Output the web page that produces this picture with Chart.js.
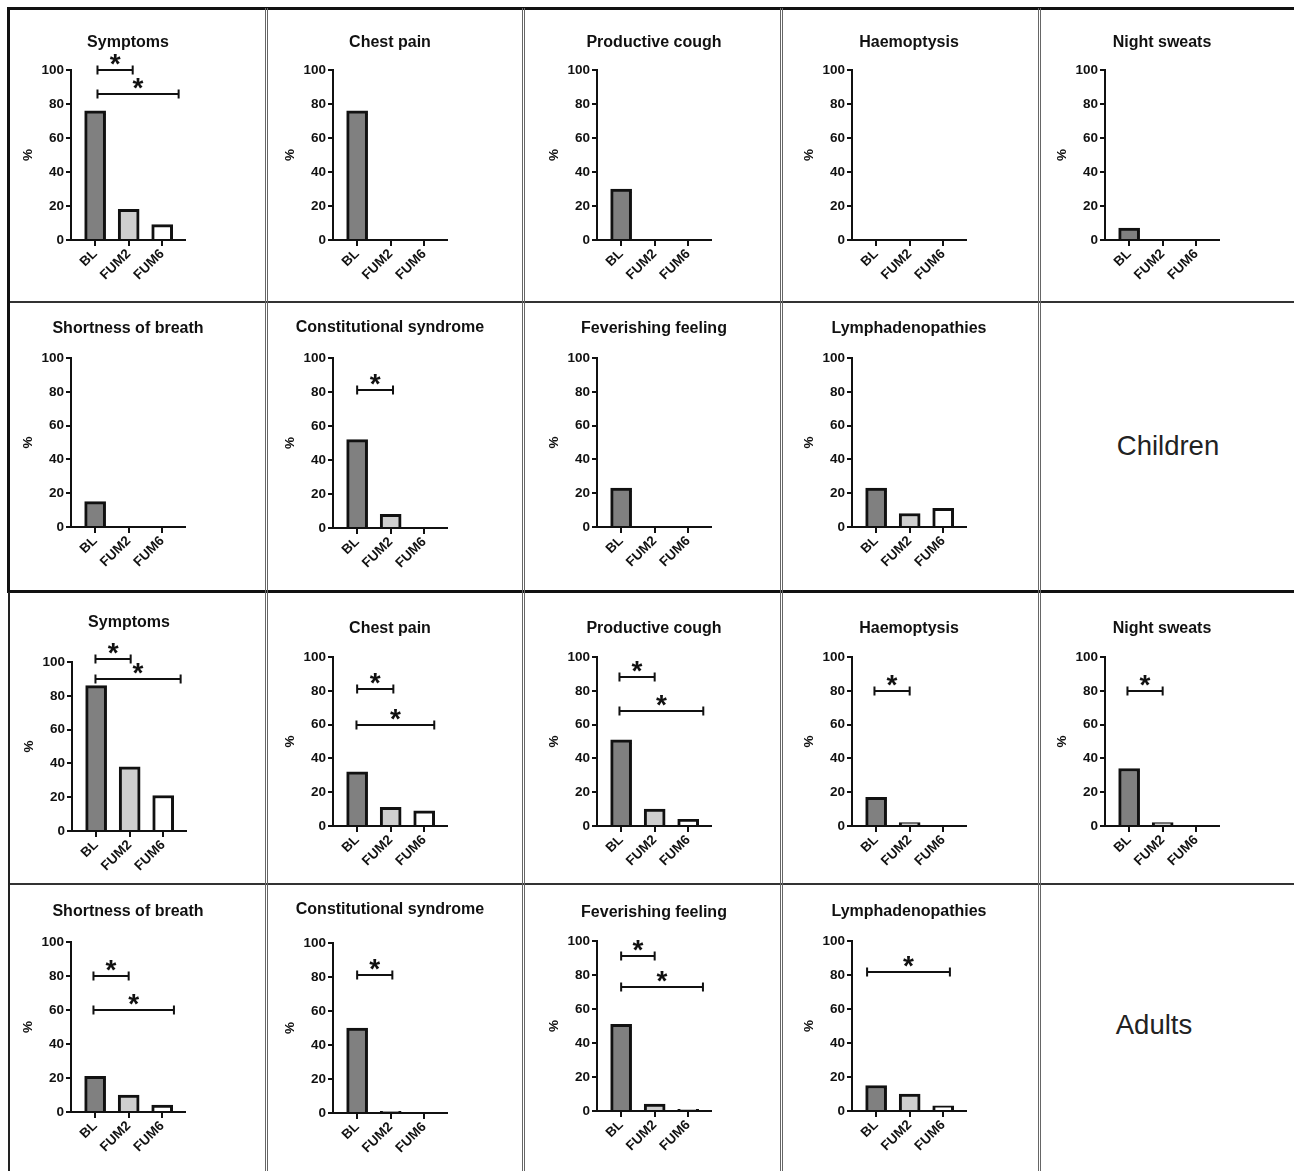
<!DOCTYPE html>
<html><head><meta charset="utf-8">
<script src="https://cdn.jsdelivr.net/npm/chart.js@4"></script>
<style>
html,body{margin:0;padding:0;background:#fff;}
#fig{position:relative;width:1294px;height:1171px;overflow:hidden;font-family:"Liberation Sans",Arial,sans-serif;}
#fig canvas{position:absolute;display:block;}
.line{position:absolute;z-index:5;}
.group{position:absolute;font-size:27.5px;color:#222;transform:translate(-50%,-50%);white-space:nowrap;}
</style></head><body><div id="fig"></div>
<script>
// ---------------- DATA ----------------
const categories = ['BL', 'FUM2', 'FUM6'];
const panelTitles = ['Symptoms', 'Chest pain', 'Productive cough', 'Haemoptysis', 'Night sweats',
  'Shortness of breath', 'Constitutional syndrome', 'Feverishing feeling', 'Lymphadenopathies'];
const childrenBL   = [76, 76, 30, 0, 7, 15, 52, 23, 23];
const childrenFUM2 = [18, 0, 0, 0, 0, 0, 8, 0, 8];
const childrenFUM6 = [9, 0, 0, 0, 0, 0, 0, 0, 11];
const adultsBL     = [86, 32, 51, 17, 34, 21, 50, 51, 15];
const adultsFUM2   = [38, 11, 10, 2, 2, 10, 1, 4, 10];
const adultsFUM6   = [21, 9, 4, 0, 0, 4, 0, 1, 3];
const yTickValues  = [0, 20, 40, 60, 80, 100];
const yAxisTitle   = '%';
// significance brackets: [from category pos, to category pos, height in %]
const childrenSig = [
  [[0.07, 1.12, 100], [0.07, 2.49, 86]], [], [], [], [], [], [[0, 1.07, 81]], [], []
];
const adultsSig = [
  [[-0.02, 1.03, 101.5], [-0.02, 2.52, 90]],
  [[0, 1.08, 81], [-0.02, 2.3, 60]],
  [[-0.05, 1.0, 88], [-0.05, 2.45, 68]],
  [[-0.05, 1.0, 80]],
  [[-0.05, 1.0, 80]],
  [[-0.05, 1.0, 80], [-0.05, 2.35, 60]],
  [[0, 1.05, 81]],
  [[0, 1.0, 91], [0, 2.44, 73]],
  [[-0.27, 2.2, 82]]
];
const groupLabels = ['Children', 'Adults'];

// ---------------- LAYOUT ----------------
const rowEdges = [8, 302, 592, 884, 1171];
// [axisX, y of 100, y of 0, title centre y] per panel
const panelGeom = [
  [[71,70,240,43],[333,70,240,43],[597,70,240,43],[852,70,240,43],[1105,70,240,43],
   [71,358,527,329],[333,358,528,328],[597,358,527,329],[852,358,527,329]],
  [[72,662,831,623],[333,657,826,629],[597,657,826,629],[852,657,826,629],[1105,657,826,629],
   [71,942,1112,912],[333,943,1113,910],[597,941,1111,913],[852,941,1111,912]]
];
const groupLabelPos = [[1168, 446], [1154, 1025]];
const barColors = ['#808080', '#cfcfcf', '#ffffff'];
const INK = '#111';
const FONT = '"Liberation Sans", Arial, Helvetica, sans-serif';

Chart.defaults.font.family = FONT;
Chart.defaults.color = INK;
Chart.defaults.animation = false;

const sigPlugin = {
  id: 'sig',
  afterDatasetsDraw(chart, args, opts) {
    const brackets = opts.brackets || [];
    const xs = chart.scales.x, ys = chart.scales.y, ctx = chart.ctx;
    ctx.save();
    ctx.strokeStyle = INK; ctx.fillStyle = INK; ctx.lineWidth = 2;
    ctx.font = 'bold 28px ' + FONT;
    ctx.textAlign = 'center'; ctx.textBaseline = 'alphabetic';
    brackets.forEach(([a, b, v]) => {
      const x1 = xs.getPixelForValue(a), x2 = xs.getPixelForValue(b);
      const y = Math.round(ys.getPixelForValue(v));
      ctx.beginPath();
      ctx.moveTo(x1, y); ctx.lineTo(x2, y);
      ctx.moveTo(x1, y - 4.5); ctx.lineTo(x1, y + 4.5);
      ctx.moveTo(x2, y - 4.5); ctx.lineTo(x2, y + 4.5);
      ctx.stroke();
      const m = ctx.measureText('*');
      const cy = y - 11;
      const base = cy + (m.actualBoundingBoxAscent - m.actualBoundingBoxDescent) / 2;
      ctx.fillText('*', (x1 + x2) / 2, base);
    });
    ctx.restore();
  }
};

const fig = document.getElementById('fig');
const groups = [
  {bl: childrenBL, f2: childrenFUM2, f6: childrenFUM6, sig: childrenSig},
  {bl: adultsBL, f2: adultsFUM2, f6: adultsFUM6, sig: adultsSig}
];

const CW = 260, YW = 51, XH = 50, AREA = 114, TITLE_LH = 16 * 1.2;

groups.forEach((g, gi) => {
  panelTitles.forEach((title, i) => {
    const row = gi * 2 + (i < 5 ? 0 : 1);
    const top = rowEdges[row], h = rowEdges[row + 1] - rowEdges[row];
    const [axisX, y100, y0, titleY] = panelGeom[gi][i];
    const left = axisX + AREA / 2 - CW / 2;
    const padLR = CW / 2 - AREA / 2 - YW;
    const padT = titleY - TITLE_LH / 2 - top;
    const titleB = y100 - titleY - TITLE_LH / 2;
    const padB = h - (y0 - top) - XH;
    const cv = document.createElement('canvas');
    cv.width = CW; cv.height = h;
    cv.style.left = left + 'px'; cv.style.top = top + 'px';
    cv.style.width = CW + 'px'; cv.style.height = h + 'px';
    fig.appendChild(cv);
    const vals = [g.bl[i], g.f2[i], g.f6[i]];
    new Chart(cv, {
      type: 'bar',
      data: {
        datasets: [{
          data: vals.map((v, k) => ({x: k, y: v})),
          backgroundColor: barColors,
          borderColor: INK,
          borderWidth: 3,
          barThickness: 21
        }]
      },
      options: {
        responsive: false, maintainAspectRatio: false, devicePixelRatio: 1,
        layout: {padding: {left: padLR, right: padLR, top: padT, bottom: padB}},
        plugins: {
          legend: {display: false}, tooltip: {enabled: false},
          title: {display: true, text: title, color: INK,
            font: {size: 16, weight: 'bold', lineHeight: 1.2},
            padding: {top: 0, bottom: titleB}},
          sig: {brackets: g.sig[i]}
        },
        scales: {
          x: {
            type: 'linear', min: -0.72, max: 2.68, offset: false,
            afterBuildTicks: s => { s.ticks = categories.map((c, k) => ({value: k})); },
            afterFit: s => { s.height = XH; },
            ticks: {callback: v => categories[v], minRotation: 45, maxRotation: 45, autoSkip: false,
              font: {size: 13.5, weight: 'bold'}, padding: 0, color: INK},
            grid: {offset: false, drawOnChartArea: false, drawTicks: true, tickLength: 6, color: INK, lineWidth: 2},
            border: {display: true, color: INK, width: 2}
          },
          y: {
            min: 0, max: 100,
            afterBuildTicks: s => { s.ticks = yTickValues.map(v => ({value: v})); },
            afterFit: s => { s.width = YW; },
            ticks: {font: {size: 13.5, weight: 'bold'}, padding: 2, color: INK},
            grid: {drawOnChartArea: false, drawTicks: true, tickLength: 5, color: INK, lineWidth: 2},
            border: {display: true, color: INK, width: 2},
            title: {display: true, text: yAxisTitle, color: INK, font: {size: 13.5, weight: 'bold'},
              padding: {top: 0, bottom: 0}}
          },
          // spacer on the right so the title is centred over the plot area
          yRight: {
            position: 'right', display: true, min: 0, max: 1,
            afterFit: s => { s.width = YW; },
            ticks: {display: false}, grid: {display: false}, border: {display: false}
          }
        }
      },
      plugins: [sigPlugin]
    });
  });
  const lab = document.createElement('div');
  lab.className = 'group';
  lab.textContent = groupLabels[gi];
  lab.style.left = groupLabelPos[gi][0] + 'px';
  lab.style.top = groupLabelPos[gi][1] + 'px';
  fig.appendChild(lab);
});

// frame lines
const lines = [
  [7, 7, 1287, 3, 'background:#111'],
  [8, 301, 1286, 2, 'background:#333'],
  [7, 590, 1287, 3, 'background:#111'],
  [9, 883, 1285, 2, 'background:#333'],
  [7, 7, 3, 586, 'background:#111'],
  [8, 592, 2, 579, 'background:#222'],
  [265, 8, 3, 1163, 'border-left:3px double #666;width:0'],
  [522, 8, 3, 1163, 'border-left:3px double #666;width:0'],
  [780, 8, 3, 1163, 'border-left:3px double #666;width:0'],
  [1038, 8, 3, 1163, 'border-left:3px double #666;width:0']
];
lines.forEach(([l, t, w, hh, st]) => {
  const d = document.createElement('div');
  d.className = 'line';
  d.style.cssText = `left:${l}px;top:${t}px;width:${w}px;height:${hh}px;` + st;
  fig.appendChild(d);
});
</script>
</body></html>
